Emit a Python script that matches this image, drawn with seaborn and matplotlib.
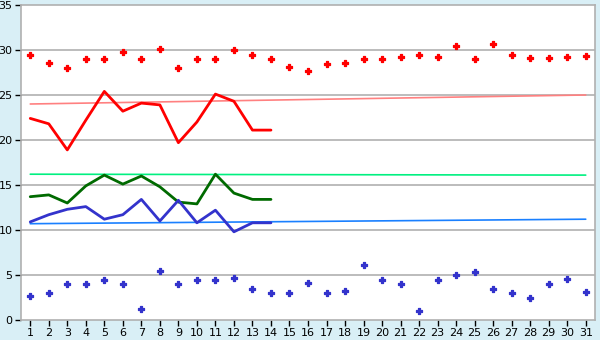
import matplotlib
matplotlib.use("Agg")
import matplotlib.pyplot as plt
import seaborn as sns
import pandas as pd

days = list(range(1, 32))
red_points = [29.4, 28.6, 28.0, 29.0, 29.0, 29.8, 29.0, 30.1, 28.0, 29.0, 29.0, 30.0, 29.4, 29.0, 28.1,
              27.7, 28.4, 28.6, 29.0, 29.0, 29.2, 29.4, 29.2, 30.5, 29.0, 30.7, 29.4, 29.1, 29.1, 29.2, 29.3]
blue_points = [2.7, 3.0, 4.0, 4.0, 4.5, 4.0, 1.2, 5.4, 4.0, 4.5, 4.4, 4.7, 3.5, 3.0, 3.0,
               4.1, 3.0, 3.2, 6.1, 4.5, 4.0, 1.0, 4.5, 5.0, 5.3, 3.5, 3.0, 2.5, 4.0, 4.6, 3.1]
line_days = list(range(1, 15))
red_line = [22.4, 21.8, 18.9, 22.2, 25.4, 23.2, 24.1, 23.9, 19.7, 22.0, 25.1, 24.3, 21.1, 21.1]
green_line = [13.7, 13.9, 13.0, 14.9, 16.1, 15.1, 16.0, 14.8, 13.1, 12.9, 16.2, 14.1, 13.4, 13.4]
blue_line = [10.9, 11.7, 12.3, 12.6, 11.2, 11.7, 13.4, 11.0, 13.3, 10.8, 12.2, 9.8, 10.8, 10.8]
trend_days = [1, 31]
red_trend = [24.0, 25.0]
green_trend = [16.2, 16.1]
blue_trend = [10.7, 11.2]
y_ticks = [0, 5, 10, 15, 20, 25, 30, 35]

sns.set_theme(style="white")
plt.rcParams['font.family'] = ['DejaVu Sans']

fig = plt.figure(figsize=(6, 3.4), dpi=100)
fig.patch.set_facecolor("#d9eff6")
ax = fig.add_axes([21/600, 20/340, 574/600, 315/340])
ax.set_facecolor("white")

for yv in y_ticks[1:-1]:
    ax.axhline(yv, color="#b0b0b0", lw=1.2, zorder=0)

sns.lineplot(x=trend_days, y=red_trend, color="#ff8080", lw=1.2, ax=ax)
sns.lineplot(x=trend_days, y=green_trend, color="#00f080", lw=1.2, ax=ax)
sns.lineplot(x=trend_days, y=blue_trend, color="#1a80ff", lw=1.2, ax=ax)

sns.lineplot(x=line_days, y=red_line, color="#ff0000", lw=2, ax=ax)
sns.lineplot(x=line_days, y=green_line, color="#006a00", lw=2, ax=ax)
sns.lineplot(x=line_days, y=blue_line, color="#3333cc", lw=2, ax=ax)

sns.scatterplot(x=days, y=red_points, color="#ff0000", marker="P", s=22,
                edgecolor="#ff0000", linewidth=0.9, ax=ax, zorder=5)
sns.scatterplot(x=days, y=blue_points, color="#3333cc", marker="P", s=22,
                edgecolor="#3333cc", linewidth=0.9, ax=ax, zorder=5)

ax.set_xlim(0.5, 31.5)
ax.set_ylim(0, 35)
ax.set_xticks(days)
ax.set_xticklabels([str(d) for d in days])
ax.set_yticks(y_ticks)
ax.tick_params(axis="both", labelsize=8, length=4, width=1, color="#000000", pad=2, colors="#000000")
ax.tick_params(axis="both", bottom=True, left=True)
for name, sp in ax.spines.items():
    sp.set_color("#b0b0b0")
    sp.set_linewidth(1.2)
ax.set_xlabel("")
ax.set_ylabel("")

fig.savefig("out.png", dpi=100, facecolor=fig.get_facecolor())
